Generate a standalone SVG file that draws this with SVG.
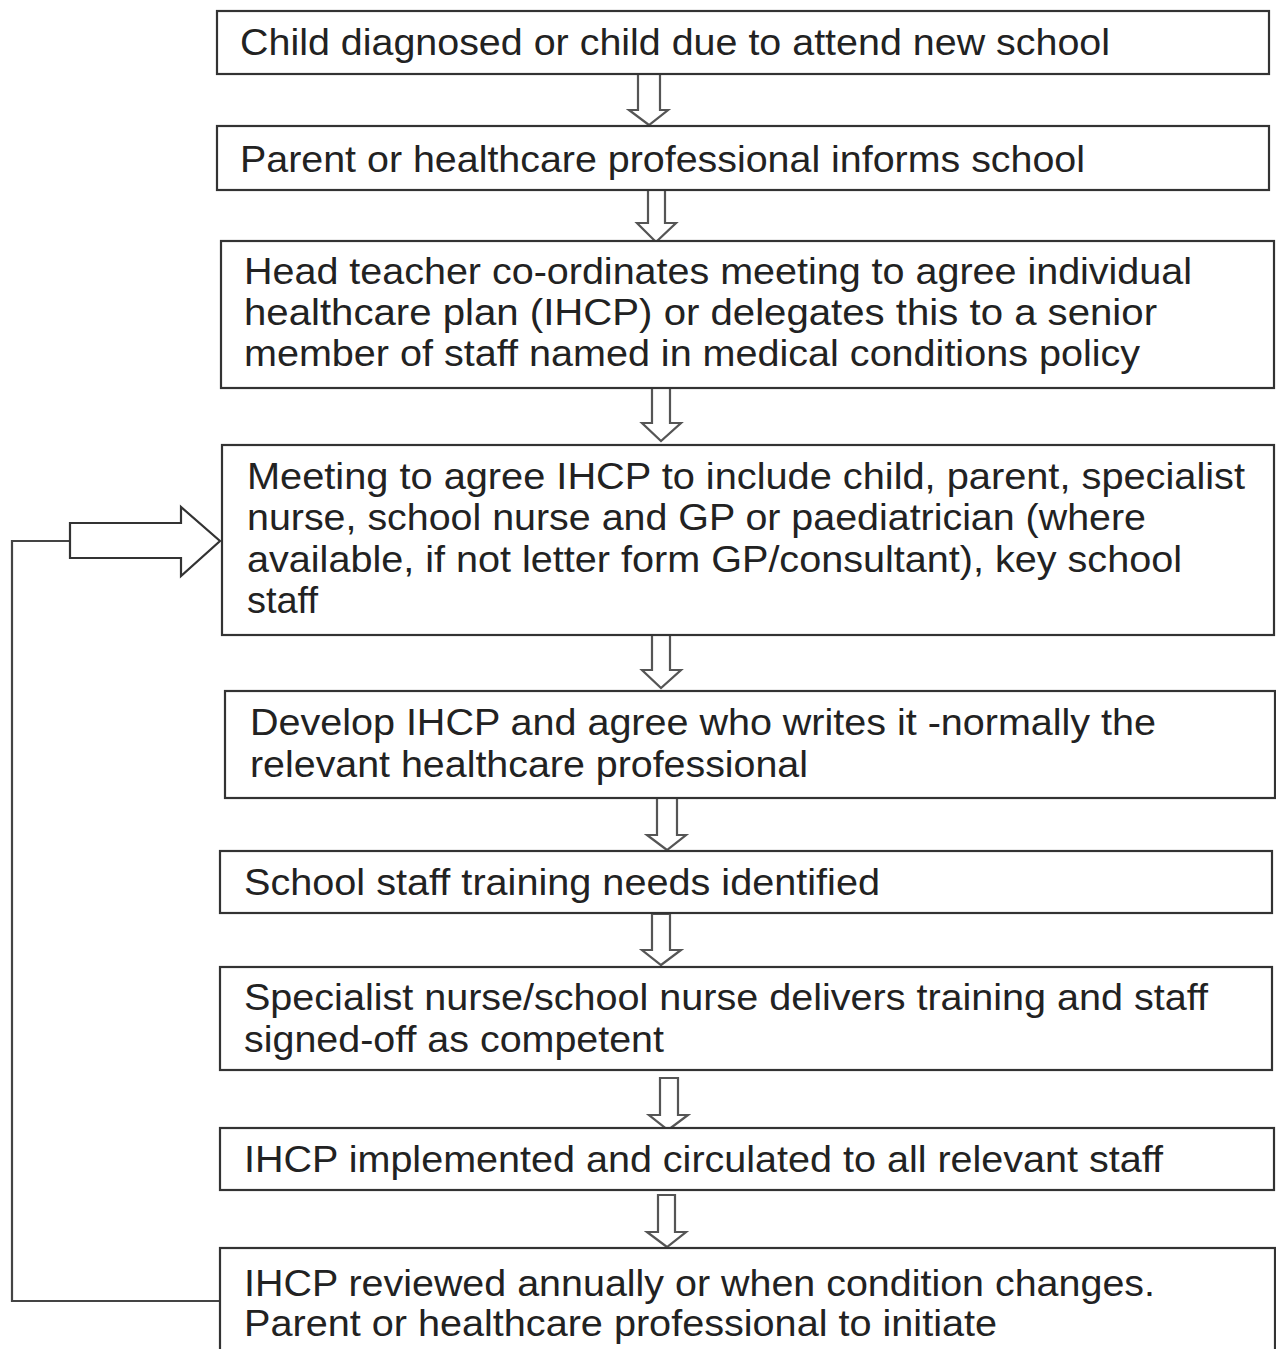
<svg xmlns="http://www.w3.org/2000/svg" width="1276" height="1349" viewBox="0 0 1276 1349">
<style>
.box{fill:#fff;stroke:#333;stroke-width:2.2}
.arr{fill:#fff;stroke:#555;stroke-width:2.2;stroke-linejoin:miter}
.line{fill:none;stroke:#444;stroke-width:2.2}
text{font-family:"Liberation Sans",Arial,sans-serif;font-size:36px;fill:#222}
</style>
<rect width="1276" height="1349" fill="#fff"/>
<g id="connectors">
<polygon class="arr" points="638,74 660,74 660,110 668,110 649,125 629,110 638,110"/>
<polygon class="arr" points="648,190 665,190 665,223 676,223 656,242 637,223 648,223"/>
<polygon class="arr" points="652,388 670,388 670,423 681,423 661,441 642,423 652,423"/>
<polygon class="arr" points="652,635 670,635 670,670 681,670 661,688 642,670 652,670"/>
<polygon class="arr" points="657,798 677,798 677,835 686,835 667,850 647,835 657,835"/>
<polygon class="arr" points="652,914 670,914 670,950 681,950 661,965 642,950 652,950"/>
<polygon class="arr" points="660,1078 678,1078 678,1115 688,1115 668,1130 649,1115 660,1115"/>
<polygon class="arr" points="658,1195 675,1195 675,1232 686,1232 667,1247 647,1232 658,1232"/>
<polyline class="line" points="220,1301 12,1301 12,541 70,541"/>
<polygon class="arr" style="stroke:#333" points="70,523 181,523 181,507 220,541 181,576 181,558 70,558"/>
</g>
<g id="n1"><rect class="box" x="217" y="11" width="1052" height="63"/>
<text x="240" y="55" textLength="870" lengthAdjust="spacingAndGlyphs">Child diagnosed or child due to attend new school</text></g>
<g id="n2"><rect class="box" x="217" y="126" width="1052" height="64"/>
<text x="240" y="172" textLength="845" lengthAdjust="spacingAndGlyphs">Parent or healthcare professional informs school</text></g>
<g id="n3"><rect class="box" x="221" y="241" width="1053" height="147"/>
<text x="244" y="284" textLength="948" lengthAdjust="spacingAndGlyphs">Head teacher co-ordinates meeting to agree individual</text>
<text x="244" y="325" textLength="913" lengthAdjust="spacingAndGlyphs">healthcare plan (IHCP) or delegates this to a  senior</text>
<text x="244" y="366" textLength="896" lengthAdjust="spacingAndGlyphs">member of staff named in medical conditions policy</text></g>
<g id="n4"><rect class="box" x="222" y="445" width="1052" height="190"/>
<text x="247" y="489" textLength="998" lengthAdjust="spacingAndGlyphs">Meeting to agree IHCP to include child, parent, specialist</text>
<text x="247" y="530" textLength="899" lengthAdjust="spacingAndGlyphs">nurse, school nurse and GP or paediatrician (where</text>
<text x="247" y="572" textLength="935" lengthAdjust="spacingAndGlyphs">available, if not letter form GP/consultant),  key school</text>
<text x="247" y="613" textLength="71" lengthAdjust="spacingAndGlyphs">staff</text></g>
<g id="n5"><rect class="box" x="225" y="691" width="1050" height="107"/>
<text x="250" y="735" textLength="906" lengthAdjust="spacingAndGlyphs">Develop IHCP and agree who writes it -normally the</text>
<text x="250" y="777" textLength="558" lengthAdjust="spacingAndGlyphs">relevant healthcare professional</text></g>
<g id="n6"><rect class="box" x="220" y="851" width="1052" height="62"/>
<text x="244" y="895" textLength="636" lengthAdjust="spacingAndGlyphs">School staff training needs identified</text></g>
<g id="n7"><rect class="box" x="220" y="967" width="1052" height="103"/>
<text x="244" y="1010" textLength="964" lengthAdjust="spacingAndGlyphs">Specialist nurse/school nurse delivers training and staff</text>
<text x="244" y="1052" textLength="420" lengthAdjust="spacingAndGlyphs">signed-off as competent</text></g>
<g id="n8"><rect class="box" x="220" y="1128" width="1054" height="62"/>
<text x="244" y="1172" textLength="919" lengthAdjust="spacingAndGlyphs">IHCP implemented and circulated to all relevant staff</text></g>
<g id="n9"><rect class="box" x="220" y="1248" width="1055" height="130"/>
<text x="244" y="1296" textLength="911" lengthAdjust="spacingAndGlyphs">IHCP reviewed annually or when condition changes.</text>
<text x="244" y="1336" textLength="753" lengthAdjust="spacingAndGlyphs">Parent or healthcare professional to initiate</text></g>
</svg>
